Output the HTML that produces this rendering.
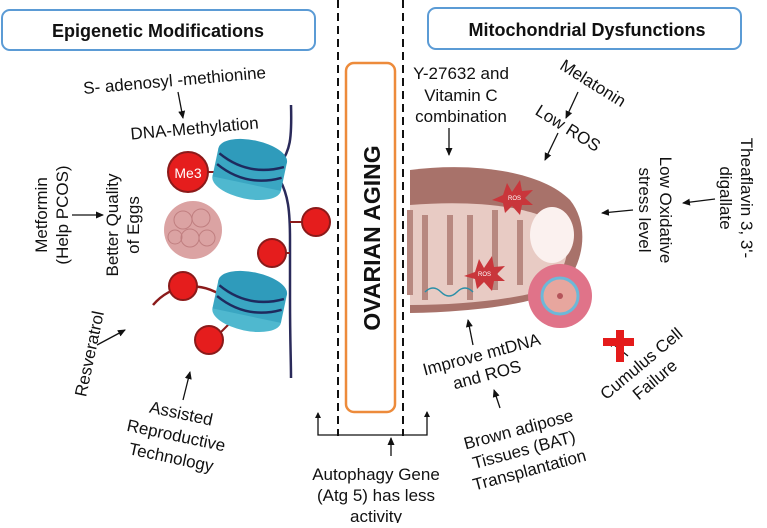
<!DOCTYPE html>
<html><head><meta charset="utf-8"><style>
body{margin:0;background:#fff}
svg text{font-family:"Liberation Sans",Arial,sans-serif;fill:#111}
</style></head><body>
<svg width="767" height="523" viewBox="0 0 767 523" xmlns="http://www.w3.org/2000/svg">
<defs><marker id="a" markerWidth="8" markerHeight="8" refX="7" refY="4" orient="auto" markerUnits="userSpaceOnUse"><path d="M0,0.5 L8,4 L0,7.5z" fill="#111"/></marker></defs>
<g stroke="#111" stroke-width="1.3" fill="none" marker-end="url(#a)">
<line x1="178" y1="92" x2="183" y2="118"/>
<line x1="72" y1="215" x2="103" y2="215"/>
<line x1="97" y1="345" x2="125" y2="330"/>
<line x1="183" y1="400" x2="190" y2="372"/>
<line x1="391" y1="456" x2="391" y2="438"/>
<line x1="449" y1="128" x2="449" y2="155"/>
<line x1="578" y1="92" x2="566" y2="118"/>
<line x1="558" y1="133" x2="545" y2="160"/>
<line x1="715" y1="199" x2="683" y2="203"/>
<line x1="633" y1="210" x2="602" y2="213"/>
<line x1="473" y1="345" x2="468" y2="320"/>
<line x1="500" y1="408" x2="494" y2="390"/>
<line x1="628" y1="356" x2="608" y2="340"/>
</g>
<path d="M318,413 V435 H427 V412" stroke="#111" stroke-width="1.3" fill="none"/>
<path d="M318,412 l-3,6 h6z M427,411 l-3,6 h6z" fill="#111"/>
<line x1="338" y1="0" x2="338" y2="436" stroke="#111" stroke-width="2" stroke-dasharray="8,5"/>
<line x1="403" y1="0" x2="403" y2="436" stroke="#111" stroke-width="2" stroke-dasharray="8,5"/>
<rect x="346" y="63" width="49" height="349" rx="8" fill="#fff" stroke="#ed8b3b" stroke-width="2.5"/>
<text transform="translate(380,238) rotate(-90)" text-anchor="middle" font-size="23" font-weight="bold">OVARIAN AGING</text>
<rect x="2" y="10" width="313" height="40" rx="8" fill="#fff" stroke="#5b9bd5" stroke-width="2"/>
<text x="158" y="37" text-anchor="middle" font-size="18" font-weight="bold">Epigenetic Modifications</text>
<rect x="428" y="8" width="313" height="41" rx="8" fill="#fff" stroke="#5b9bd5" stroke-width="2"/>
<text x="587" y="36" text-anchor="middle" font-size="18" font-weight="bold">Mitochondrial Dysfunctions</text>
<path d="M291,105 C292,140 290,150 280,165 M280,180 C288,195 290,210 290,240 L290,300 C290,340 291,360 291,378" stroke="#2a2a5a" stroke-width="2.5" fill="none"/>
<path d="M153,305 C170,285 200,278 228,300" stroke="#8b1a1a" stroke-width="2.5" fill="none"/>
<g stroke="#8b1a1a" stroke-width="2"><line x1="208" y1="172" x2="225" y2="172"/><line x1="290" y1="222" x2="302" y2="222"/><line x1="286" y1="253" x2="290" y2="253"/><line x1="220" y1="333" x2="235" y2="318"/></g>
<g transform="rotate(12 250 168)"><ellipse cx="250" cy="184" rx="35" ry="15" fill="#4fb8cf"/><rect x="215" y="155" width="70" height="29" fill="#3aa6c2"/><ellipse cx="250" cy="155" rx="35" ry="15" fill="#2f9bbb"/><path d="M217,160 Q250,177 283,160 M217,171 Q250,188 283,171" stroke="#1e2a5e" stroke-width="2.5" fill="none"/></g>
<g transform="rotate(12 250 300)"><ellipse cx="250" cy="316" rx="35" ry="15" fill="#4fb8cf"/><rect x="215" y="287" width="70" height="29" fill="#3aa6c2"/><ellipse cx="250" cy="287" rx="35" ry="15" fill="#2f9bbb"/><path d="M217,292 Q250,309 283,292 M217,303 Q250,320 283,303" stroke="#1e2a5e" stroke-width="2.5" fill="none"/></g>
<g fill="#e51d1d" stroke="#8b1a1a" stroke-width="2"><circle cx="188" cy="172" r="20"/><circle cx="316" cy="222" r="14"/><circle cx="272" cy="253" r="14"/><circle cx="183" cy="286" r="14"/><circle cx="209" cy="340" r="14"/></g>
<text x="188" y="178" text-anchor="middle" font-size="14" style="fill:#fff">Me3</text>
<circle cx="193" cy="230" r="29" fill="#dba3a3"/>
<g fill="none" stroke="#c07f80" stroke-width="1"><circle cx="183" cy="220" r="9"/><circle cx="201" cy="218" r="9"/><circle cx="190" cy="238" r="9"/><circle cx="207" cy="238" r="8"/><circle cx="175" cy="237" r="7"/></g>
<text transform="translate(175,86) rotate(-5)" text-anchor="middle" font-size="17">S- adenosyl -methionine</text>
<text transform="translate(195,134) rotate(-5)" text-anchor="middle" font-size="17">DNA-Methylation</text>
<text transform="translate(47,215) rotate(-90)" text-anchor="middle" font-size="17"><tspan x="0" y="0">Metformin</tspan><tspan x="0" y="21">(Help PCOS)</tspan></text>
<text transform="translate(118,225) rotate(-90)" text-anchor="middle" font-size="17"><tspan x="0" y="0">Better Quality</tspan><tspan x="0" y="21">of Eggs</tspan></text>
<text transform="translate(95,355) rotate(-78)" text-anchor="middle" font-size="17">Resveratrol</text>
<g font-size="17" text-anchor="middle"><text transform="translate(180,419) rotate(12)">Assisted</text><text transform="translate(175,441) rotate(12)">Reproductive</text><text transform="translate(170,463) rotate(12)">Technology</text></g>
<g font-size="17" text-anchor="middle"><text x="376" y="480">Autophagy Gene</text><text x="376" y="501">(Atg 5) has less</text><text x="376" y="522">activity</text></g>
<path d="M410,170 C470,162 540,170 570,200 C590,225 585,265 560,290 C530,305 470,312 410,313 Z" fill="#a8726a"/>
<path d="M410,205 C470,200 530,205 560,225 C575,245 565,275 545,290 C510,300 460,305 410,305 Z" fill="#e8cbc4"/>
<path d="M410,210 V295 M425,215 V300 M450,215 V285 M470,215 V300 M495,210 V290 M520,220 V285" stroke="#b88880" stroke-width="6" fill="none"/>
<ellipse cx="552" cy="235" rx="22" ry="28" fill="#fbf1ef"/>
<polygon points="503,195 507,183 512,192 520,180 522,191 533,190 525,198 533,205 522,205 520,215 512,206 505,213 503,203 492,200" fill="#c9363b"/>
<text x="508" y="200" font-size="6" style="fill:#fff">ROS</text>
<polygon points="475,272 479,259 484,268 492,256 494,267 505,266 497,274 505,281 494,281 492,291 484,282 477,289 475,279 464,276" fill="#c9363b"/>
<text x="478" y="276" font-size="6" style="fill:#fff">ROS</text>
<path d="M425,292 q8,-8 16,0 t16,0 t16,0" stroke="#2a8fa8" stroke-width="1.5" fill="none"/>
<circle cx="560" cy="296" r="32" fill="#e07389"/>
<circle cx="560" cy="296" r="18" fill="#e7a69e" stroke="#6cb8d8" stroke-width="3"/>
<circle cx="560" cy="296" r="3" fill="#b5545a"/>
<g font-size="17" text-anchor="middle"><text x="461" y="79">Y-27632 and</text><text x="461" y="101">Vitamin C</text><text x="461" y="122">combination</text></g>
<text transform="translate(590,88) rotate(32)" text-anchor="middle" font-size="17">Melatonin</text>
<text transform="translate(565,133) rotate(32)" text-anchor="middle" font-size="17">Low ROS</text>
<text transform="translate(741,198) rotate(90)" text-anchor="middle" font-size="17"><tspan x="0" y="0">Theaflavin 3, 3'-</tspan><tspan x="0" y="21">digallate</tspan></text>
<text transform="translate(660,210) rotate(90)" text-anchor="middle" font-size="17"><tspan x="0" y="0">Low Oxidative</tspan><tspan x="0" y="21">stress level</tspan></text>
<path d="M603,342 h31 M620,330 v32" stroke="#e41b1b" stroke-width="8"/>
<text transform="translate(645,368) rotate(-40)" text-anchor="middle" font-size="17"><tspan x="0" y="0">Cumulus Cell</tspan><tspan x="0" y="21">Failure</tspan></text>
<text transform="translate(483,360) rotate(-15)" text-anchor="middle" font-size="17"><tspan x="0" y="0">Improve mtDNA</tspan><tspan x="0" y="21">and ROS</tspan></text>
<text transform="translate(520,435) rotate(-15)" text-anchor="middle" font-size="17"><tspan x="0" y="0">Brown adipose</tspan><tspan x="0" y="21">Tissues (BAT)</tspan><tspan x="0" y="42">Transplantation</tspan></text>
</svg>
</body></html>
